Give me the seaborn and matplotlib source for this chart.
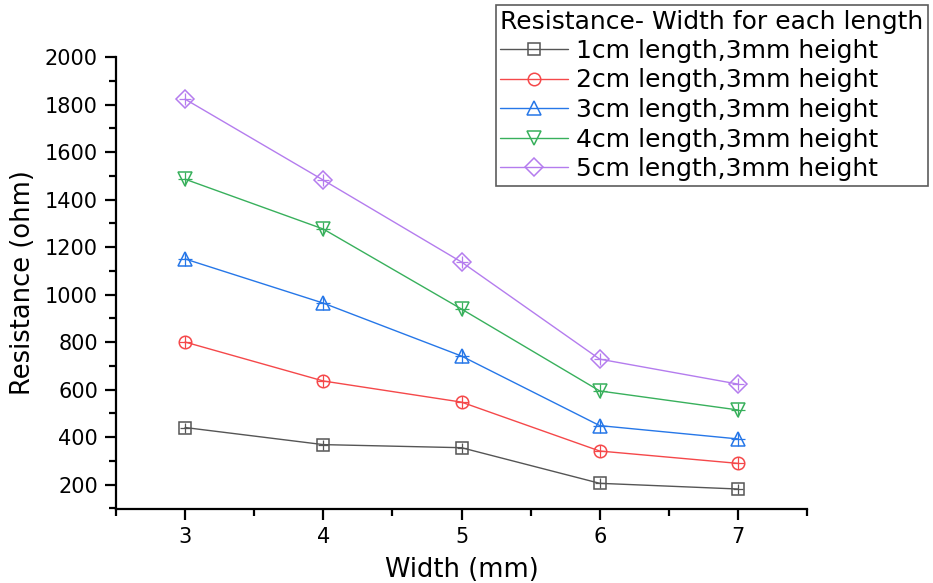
import numpy as np
import pandas as pd
import seaborn as sns
import matplotlib.pyplot as plt
from matplotlib.ticker import MultipleLocator

# widths (mm)
width = [3, 4, 5, 6, 7]

# resistance (ohm) for each length
r_1cm = [440, 368, 355, 205, 181]
r_2cm = [800, 636, 547, 341, 289]
r_3cm = [1150, 964, 741, 448, 392]
r_4cm = [1486, 1276, 939, 594, 514]
r_5cm = [1823, 1482, 1137, 728, 623]

labels = ["1cm length,3mm height", "2cm length,3mm height",
          "3cm length,3mm height", "4cm length,3mm height",
          "5cm length,3mm height"]
series = [r_1cm, r_2cm, r_3cm, r_4cm, r_5cm]
colors = ["#555555", "#f5484a", "#2677e8", "#38b05c", "#b47cee"]
markers = ["s", "o", "^", "v", "D"]
msizes = [8, 9, 10, 10, 9]

sns.set_style("ticks")
plt.rcParams["font.family"] = ["DejaVu Sans"]
plt.rcParams["text.color"] = "black"
plt.rcParams["axes.labelcolor"] = "black"
plt.rcParams["xtick.color"] = "black"
plt.rcParams["ytick.color"] = "black"
plt.rcParams["axes.edgecolor"] = "black"

fig = plt.figure(figsize=(9.33, 5.83), dpi=100)
ax = fig.add_axes([0.1243, 0.127, 0.7407, 0.775])

for lab, vals, c, m, ms in zip(labels, series, colors, markers, msizes):
    df = pd.DataFrame({"Width": width, "Resistance": vals})
    sns.lineplot(data=df, x="Width", y="Resistance", ax=ax, color=c,
                 marker=m, markersize=ms, markerfacecolor="none",
                 markeredgecolor=c, markeredgewidth=1.1, linewidth=1.0,
                 label=lab)
    # the little cross inside each symbol
    ax.plot(width, vals, linestyle="none", marker="+", markersize=ms * 0.95,
            color=c, markeredgewidth=0.9)

ax.set_xlim(2.5, 7.5)
ax.set_ylim(97, 2000)
ax.set_xticks([3, 4, 5, 6, 7])
ax.set_xticks([2.5, 3.5, 4.5, 5.5, 6.5, 7.5], minor=True)
ax.set_yticks(np.arange(200, 2001, 200))
ax.yaxis.set_minor_locator(MultipleLocator(100))

for s in ["top", "right"]:
    ax.spines[s].set_visible(False)
for s in ["left", "bottom"]:
    ax.spines[s].set_linewidth(1.6)
ax.tick_params(which="major", length=8, width=1.6, labelsize=15, pad=5)
ax.tick_params(which="minor", length=5, width=1.6)

ax.set_xlabel("Width (mm)", fontsize=18.5, labelpad=7)
ax.set_ylabel("Resistance (ohm)", fontsize=18.5, labelpad=6)

leg = ax.legend(title="Resistance- Width for each length",
                loc="upper right", bbox_to_anchor=(928 / 933, 1 - 5 / 583),
                bbox_transform=fig.transFigure, fontsize=18,
                title_fontsize=18, frameon=True, fancybox=False,
                edgecolor="#333333", handlelength=2.7, borderpad=0.18,
                labelspacing=0.22, handletextpad=0.35, alignment="left",
                borderaxespad=0)
leg.get_frame().set_linewidth(1.2)

fig.savefig("out.png", dpi=100)
